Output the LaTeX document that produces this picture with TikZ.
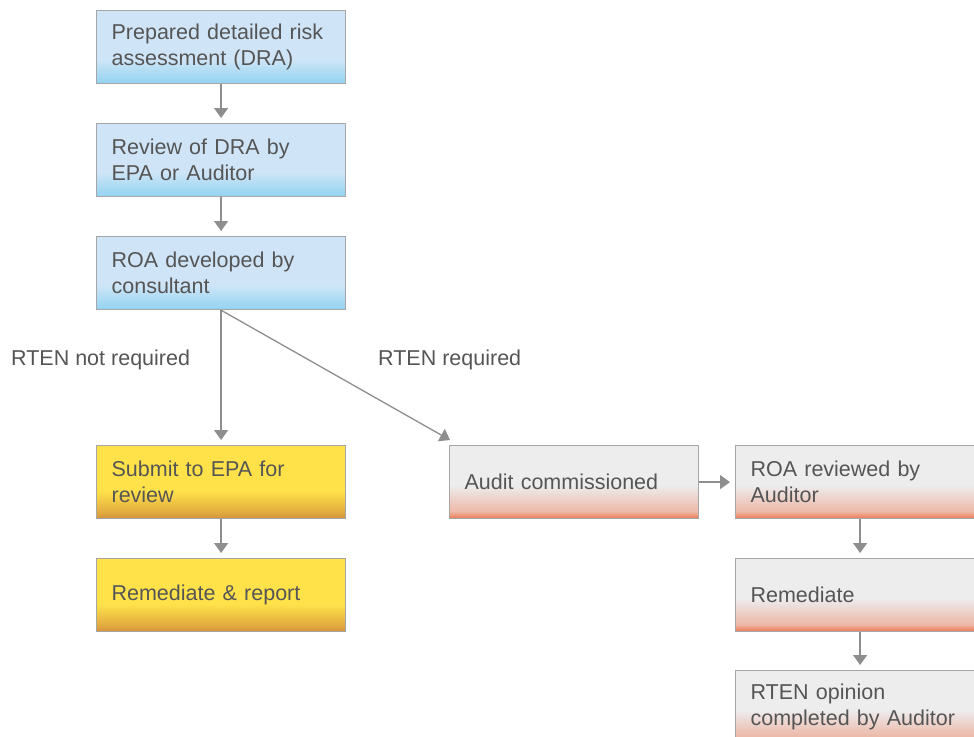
\documentclass[tikz,border=0pt]{standalone}
\usepackage{fontspec}
\setmainfont{Liberation Sans}
\usetikzlibrary{arrows.meta}
\definecolor{txt}{HTML}{555555}
\definecolor{bord}{HTML}{A6A6A6}
\definecolor{arr}{HTML}{8E8E8E}
\definecolor{blueT}{HTML}{CFE5F7}
\definecolor{blueB}{HTML}{92D3F1}
\definecolor{yelT}{HTML}{FFE24A}
\definecolor{yelB}{HTML}{D3903A}
\definecolor{grayT}{HTML}{EDEDED}
\definecolor{grayB}{HTML}{EE7753}
\pgfdeclareverticalshading{blueshade}{100bp}{color(0bp)=(blueB); color(25bp)=(blueB); color(42bp)=(blueT); color(100bp)=(blueT)}
\pgfdeclareverticalshading{yelshade}{100bp}{color(0bp)=(yelB); color(25bp)=(yelB); color(29bp)=(yelB!70!yelT); color(44bp)=(yelT); color(100bp)=(yelT)}
\pgfdeclareverticalshading{grayshade}{100bp}{color(0bp)=(grayB); color(25bp)=(grayB); color(30bp)=(grayB!45!grayT); color(48bp)=(grayT); color(100bp)=(grayT)}
\begin{document}
\begin{tikzpicture}[x=1pt,y=-1pt,
  box/.style={draw=bord,line width=1.2pt,anchor=north west,text width=219pt,inner xsep=15pt,inner ysep=0pt,
    minimum height=73pt,align=left,text=txt,font=\fontsize{21.5}{26}\selectfont},
  bluebox/.style={box,shading=blueshade},
  yelbox/.style={box,shading=yelshade},
  graybox/.style={box,shading=grayshade},
  lab/.style={anchor=west,text=txt,inner sep=0pt,font=\fontsize{21.5}{26}\selectfont},
  conn/.style={draw=arr,line width=1.3pt,-{Triangle[width=14pt,length=10pt]},shorten >=5pt}]
\useasboundingbox (0,0) rectangle (974,736);
\clip (0,0) rectangle (974,736);
\node[bluebox] (b1) at (96,10) {Prepared detailed risk\\assessment (DRA)};
\node[bluebox] (b2) at (96,123) {Review of DRA by\\EPA or Auditor};
\node[bluebox] (b3) at (96,236) {ROA developed by\\consultant};
\node[yelbox] (b4) at (96,445) {Submit to EPA for\\review};
\node[yelbox] (b5) at (96,558) {Remediate \& report};
\node[graybox] (audit) at (449,445) {Audit commissioned};
\node[graybox] (roa) at (735,445) {ROA reviewed by\\Auditor};
\node[graybox] (rem) at (735,558) {Remediate};
\node[graybox] (rten) at (735,670) {RTEN opinion\\completed by Auditor};
\node[lab] (l1) at (11,360) {RTEN not required};
\node[lab] (l2) at (378,360) {RTEN required};
\coordinate (tip) at (450,440);
\draw[conn] (b1) -- (b2);
\draw[conn] (b2) -- (b3);
\draw[conn] (b3) -- (b4);
\draw[conn] (b4) -- (b5);
\draw[conn,shorten >=0pt] (b3.south) -- (tip);
\draw[conn] (audit) -- (roa);
\draw[conn] (roa) -- (rem);
\draw[conn] (rem) -- (rten);
\end{tikzpicture}
\end{document}
